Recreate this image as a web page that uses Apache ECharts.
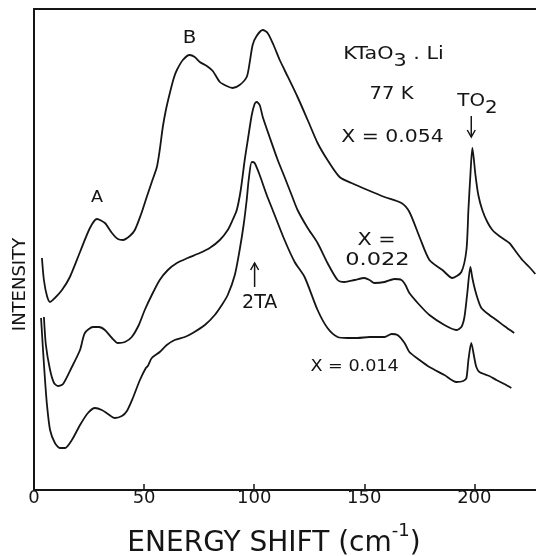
<!DOCTYPE html>
<html><head><meta charset="utf-8">
<style>html,body{margin:0;padding:0;background:#fff}#c{width:536px;height:556px}</style>
<script src="https://cdn.jsdelivr.net/npm/echarts@6/dist/echarts.min.js"></script>
</head><body><div id="c"></div>
<script>
// Energy shift (cm^-1), intensity (arbitrary units)
const xTickLabels = ['0', '50', '100', '150', '200'];

const curve054 = [[3.6,232],[4.5,210],[5.9,194],[7.3,188],[9.5,192],[12.7,200],[16.3,213],[20.9,238],[25.4,262],[28.6,271],[32.2,267],[35.4,257],[38.1,251],[40.4,250],[43.5,254],[45.8,260],[48.5,275],[51.2,293],[53.5,308],[55.8,323],[57.1,340],[58.5,363],[59.9,380],[61.7,397],[63.5,412],[64.9,420],[67.6,430],[70.7,435],[73.0,433],[75.3,428],[78.5,424],[81.2,419],[84.4,408],[87.5,404],[90.2,402],[93.4,405],[96.6,413],[98.0,428],[99.3,445],[101.1,454],[103.9,460],[106.1,457],[108.8,445],[111.6,430],[113.8,420],[119.7,393],[124.3,370],[128.8,347],[133.3,330],[138.8,313],[144.2,307],[151.5,300],[159.2,293],[166.9,287],[170.5,278],[175.1,253],[179.6,230],[185.5,220],[190.0,212],[194.1,218],[196.4,240],[197.3,280],[198.2,315],[199.1,342],[200.5,315],[201.8,295],[203.6,280],[205.9,268],[208.2,260],[211.3,254],[215.9,247],[219.0,238],[221.8,230],[224.9,223],[227.7,216]];

const curve022 = [[4.5,173],[5.4,145],[7.3,120],[9.1,107],[10.9,104],[13.2,106],[17.2,123],[20.9,140],[23.1,157],[26.8,163],[29.5,163],[32.2,160],[35.4,152],[38.1,147],[41.3,148],[44.4,153],[47.6,165],[50.3,180],[53.5,195],[57.1,210],[60.8,220],[64.9,227],[69.8,232],[75.3,237],[79.8,242],[84.4,250],[88.0,260],[90.2,270],[92.1,280],[93.9,300],[95.7,330],[97.1,350],[98.9,375],[100.2,386],[101.1,388],[102.5,385],[103.9,373],[107.0,353],[110.7,330],[113.8,313],[117.0,295],[119.7,280],[124.3,262],[128.8,247],[133.3,227],[137.9,210],[141.0,208],[145.6,210],[150.1,212],[152.4,210],[154.6,207],[159.2,208],[163.7,211],[166.9,210],[168.7,205],[170.5,197],[175.1,185],[179.6,175],[186.4,165],[191.8,160],[194.1,163],[195.5,173],[196.8,197],[198.2,223],[199.1,212],[200.0,203],[201.4,192],[203.2,182],[206.8,175],[210.0,170],[213.6,164],[218.1,157]];

const curve014 = [[3.2,172],[4.1,140],[5.0,110],[5.9,85],[7.3,60],[9.5,47],[11.8,42],[14.1,42],[17.2,50],[20.9,65],[24.5,77],[27.7,82],[30.8,80],[33.6,76],[36.7,72],[39.9,74],[42.2,79],[44.9,92],[48.1,110],[50.8,122],[51.7,124],[53.5,132],[57.1,138],[60.3,145],[63.9,150],[68.5,153],[72.1,157],[77.6,165],[82.1,175],[85.3,185],[88.0,195],[91.2,215],[93.4,240],[95.2,265],[96.6,290],[97.5,310],[98.9,328],[100.2,327],[102.5,315],[105.7,295],[108.4,280],[113.8,250],[118.4,228],[122.9,213],[128.8,180],[133.3,162],[137.9,153],[142.4,152],[146.9,152],[152.4,153],[159.2,153],[162.4,156],[165.1,155],[168.3,147],[170.5,138],[175.1,130],[179.6,123],[186.4,115],[191.8,108],[195.0,109],[196.4,112],[197.3,130],[198.6,147],[200.0,132],[200.9,123],[202.3,118],[206.8,114],[210.0,110],[213.6,106],[216.8,102]];

// Annotation anchors in data units
const noteTexts = ['A', 'B', '{a|KTaO}{b|3}{a| . Li}', '77 K', 'X = 0.054', '{a|TO}{b|2}', 'X =', '0.022', '2TA', 'X = 0.014'];
const noteX = [28.6, 70.7, 163.3, 162.4, 162.8, 201.4, 155.6, 156.0, 102.5, 145.6];
const noteY = [292, 452, 432, 395, 352, 385, 250, 230, 187, 123];
// arrows: [x, tailY, headY]
const arrowTO2 = [198.6, 374, 353];
const arrow2TA = [100.2, 203, 227];

const FONT = 'DejaVu Sans';
const INK = '#151515';
const noteStyle = [
  {fs: 16, sx: 1.1}, {fs: 18, sx: 1.1}, {fs: 18, sx: 1.15}, {fs: 17, sx: 1.15}, {fs: 17, sx: 1.2},
  {fs: 18, sx: 1.1}, {fs: 18, sx: 1.15}, {fs: 18, sx: 1.25}, {fs: 19, sx: 1.0}, {fs: 16, sx: 1.1}
];

const lineSeries = (name, data) => ({
  name, type: 'line', data, showSymbol: false, symbol: 'none', smooth: 0.25,
  lineStyle: {color: INK, width: 1.8}, animation: false, z: 3
});

const option = {
  backgroundColor: '#fff',
  animation: false,
  grid: {left: 34, right: 0, top: 9, bottom: 66, outerBoundsMode: 'none', containLabel: false},
  xAxis: [{
    type: 'value', min: 0, max: 228, interval: 50, position: 'bottom',
    axisLine: {show: true, onZero: false, lineStyle: {color: INK, width: 2}},
    axisTick: {show: true, inside: true, length: 6, lineStyle: {color: INK, width: 1.5}},
    axisLabel: {
      show: true, margin: -1, color: INK, fontSize: 18, fontFamily: FONT, showMaxLabel: false,
      formatter: v => (xTickLabels.indexOf(String(v)) >= 0 ? String(v) : '')
    },
    splitLine: {show: false},
    name: '{a|ENERGY SHIFT (cm}{s|-1}{a|)}', nameLocation: 'middle', nameGap: 32,
    nameTextStyle: {
      padding: [0, 22, 0, 0],
      rich: {
        a: {fontSize: 28, fontFamily: FONT, color: INK, padding: [8, 0, 0, 0], verticalAlign: 'top'},
        s: {fontSize: 18, fontFamily: FONT, color: INK, verticalAlign: 'top'}
      }
    }
  }, {
    type: 'value', min: 0, max: 228, position: 'top',
    axisLine: {show: true, onZero: false, lineStyle: {color: INK, width: 1.8}},
    axisTick: {show: false}, axisLabel: {show: false}, splitLine: {show: false}
  }],
  yAxis: {
    type: 'value', min: 0, max: 481,
    axisLine: {show: true, onZero: false, lineStyle: {color: INK, width: 2}},
    axisTick: {show: false}, axisLabel: {show: false}, splitLine: {show: false},
    name: 'INTENSITY', nameLocation: 'middle', nameRotate: 90, nameGap: 5,
    nameTextStyle: {fontSize: 18, fontFamily: FONT, color: INK, padding: [0, 70, 0, 0]}
  },
  series: [
    lineSeries('X = 0.054', curve054),
    lineSeries('X = 0.022', curve022),
    lineSeries('X = 0.014', curve014)
  ]
};

const chart = echarts.init(document.getElementById('c'), null, {renderer: 'canvas'});
chart.setOption(option);

const toPx = (x, y) => chart.convertToPixel({xAxisIndex: 0, yAxisIndex: 0}, [x, y]);
const graphics = [];
noteTexts.forEach((t, i) => {
  const p = toPx(noteX[i], noteY[i]);
  const st = noteStyle[i];
  graphics.push({
    type: 'text', x: p[0], y: p[1], scaleX: st.sx, silent: true, z: 10,
    style: {
      text: t, fontSize: st.fs, fontFamily: FONT, fill: INK, align: 'center', verticalAlign: 'middle',
      rich: {
        a: {fontSize: st.fs, fontFamily: FONT, fill: INK, verticalAlign: 'top'},
        b: {fontSize: st.fs, fontFamily: FONT, fill: INK, verticalAlign: 'top', padding: [7, 0, 0, 0]}
      }
    }
  });
});
function arrow(a) {
  const t = toPx(a[0], a[1]);
  const h = toPx(a[0], a[2]);
  const dir = h[1] > t[1] ? 1 : -1;
  graphics.push({type: 'line', silent: true, z: 10, shape: {x1: t[0], y1: t[1], x2: h[0], y2: h[1]}, style: {stroke: INK, lineWidth: 1.5}});
  graphics.push({type: 'polyline', silent: true, z: 10, shape: {points: [[h[0] - 4, h[1] - dir * 7], [h[0], h[1]], [h[0] + 4, h[1] - dir * 7]]}, style: {stroke: INK, lineWidth: 1.5, fill: null}});
}
arrow(arrowTO2);
arrow(arrow2TA);
chart.setOption({graphic: graphics});
</script>
</body></html>
